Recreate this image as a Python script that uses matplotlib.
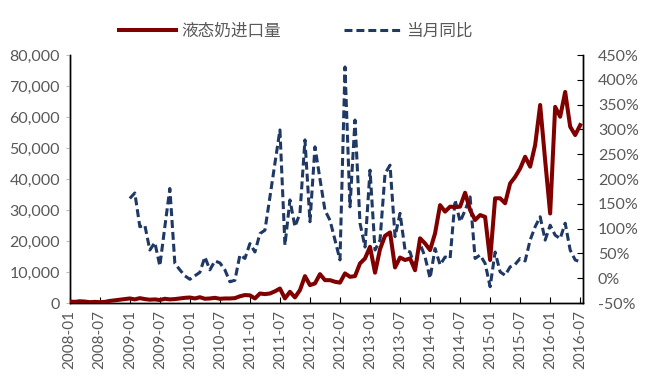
import matplotlib
matplotlib.use("Agg")
import matplotlib.pyplot as plt
import numpy as np
from matplotlib.ticker import FuncFormatter

plt.rcParams['font.family'] = ['Lato', 'Noto Sans CJK SC', 'DejaVu Sans']

# 月度: 2008-01 .. 2016-07
months = [f"{y}-{m:02d}" for y in range(2008, 2017) for m in range(1, 13)][:103]

# 液态奶进口量 (吨)
volume = [
    500, 400, 600, 500, 300, 400, 300, 400, 700, 900, 1100, 1300,            # 2008
    1500, 1200, 1600, 1300, 1100, 1200, 1000, 1400, 1200, 1300, 1500, 1700,  # 2009
    1800, 1500, 1900, 1400, 1500, 1700, 1400, 1500, 1500, 1600, 2200, 2600,  # 2010
    2500, 1500, 3100, 2900, 3100, 3800, 4700, 1500, 3650, 1840, 4200, 8700,  # 2011
    5800, 6350, 9350, 7400, 7400, 6880, 6600, 9580, 8480, 8700, 12800, 14400,  # 2012
    18160, 9800, 17400, 21700, 22800, 11500, 14700, 13900, 14400, 10600, 20900, 19250,  # 2013
    17100, 22500, 31600, 29500, 31100, 31000, 31100, 35600, 30000, 26800, 28400, 27800,  # 2014
    13900, 33800, 33800, 32200, 38600, 40700, 43400, 47200, 44000, 51000, 63900, 46000,  # 2015
    28900, 63300, 60100, 68100, 56900, 54200, 57400,                          # 2016
]

# 当月同比 (%), 从 2009-01 开始
yoy = [
    161, 172, 104, 107, 57, 72, 25, 104, 181, 30, 17, 5,          # 2009
    -2, 5, 12, 43, 17, 35, 31, 17, -7, -4, 47, 40,                # 2010
    70, 53, 90, 97, 164, 232, 299, 67, 158, 104, 131, 279,        # 2011
    114, 265, 200, 137, 117, 77, 37, 426, 144, 319, 111, 63,      # 2012
    218, 57, 77, 211, 228, 84, 131, 57, 53, 20, 70, 43,           # 2013
    0, 60, 27, 43, 40, 158, 114, 137, 164, 40, 47, 30,            # 2014
    -17, 53, 13, 6, 23, 28, 40, 35, 77, 104, 124, 77,             # 2015
    107, 87, 80, 111, 57, 37, 33,                                 # 2016
]

x_vol = np.arange(len(volume))
x_yoy = np.arange(12, 12 + len(yoy))

gray = "#595959"
red = "#800000"
navy = "#1F3864"

fig = plt.figure(figsize=(6.46, 3.77), dpi=100)
ax = fig.add_axes([0.108, 0.196, 0.794, 0.658])
ax2 = ax.twinx()

l1, = ax.plot(x_vol, volume, color=red, lw=2.9, solid_joinstyle="round",
              label="液态奶进口量", zorder=3)
l2, = ax2.plot(x_yoy, yoy, color=navy, lw=2.2, ls=(0, (2.6, 1.3)),
               label="当月同比", zorder=2)
ax.set_zorder(ax2.get_zorder() + 1)
ax.patch.set_visible(False)

ax.set_xlim(0, 102.5)
ax.set_ylim(0, 80000)
ax.set_yticks(np.arange(0, 80001, 10000))
ax.yaxis.set_major_formatter(FuncFormatter(lambda v, p: f"{int(v):,}"))
ax2.set_ylim(-50, 450)
ax2.set_yticks(np.arange(-50, 451, 50))
ax2.yaxis.set_major_formatter(FuncFormatter(lambda v, p: f"{int(v)}%"))

xt = list(range(0, len(months), 6))
ax.set_xticks(xt)
ax.set_xticklabels([months[i] for i in xt], rotation=90)

for a in (ax, ax2):
    a.spines["top"].set_visible(False)
    for s in ("left", "right", "bottom"):
        a.spines[s].set_color("black")
        a.spines[s].set_linewidth(1.0)
ax.tick_params(axis="x", direction="in", length=4, colors=gray, labelsize=11, pad=5)
ax.tick_params(axis="x", color="black")
ax.tick_params(axis="y", direction="out", length=3, colors=gray, labelsize=11.5, pad=4)
ax2.tick_params(axis="y", direction="in", length=4, colors=gray, labelsize=11.5, pad=11)
ax.tick_params(axis="y", color="#bbbbbb")
ax2.tick_params(axis="y", color="black")

fig.legend(handles=[l1, l2], loc="upper center", bbox_to_anchor=(0.458, 0.98),
           ncol=2, frameon=False, handlelength=3.4, columnspacing=3.8,
           handletextpad=0.3, prop={"family": ["Noto Sans CJK SC"], "size": 12},
           labelcolor=gray)

fig.savefig("out.png", dpi=100)
